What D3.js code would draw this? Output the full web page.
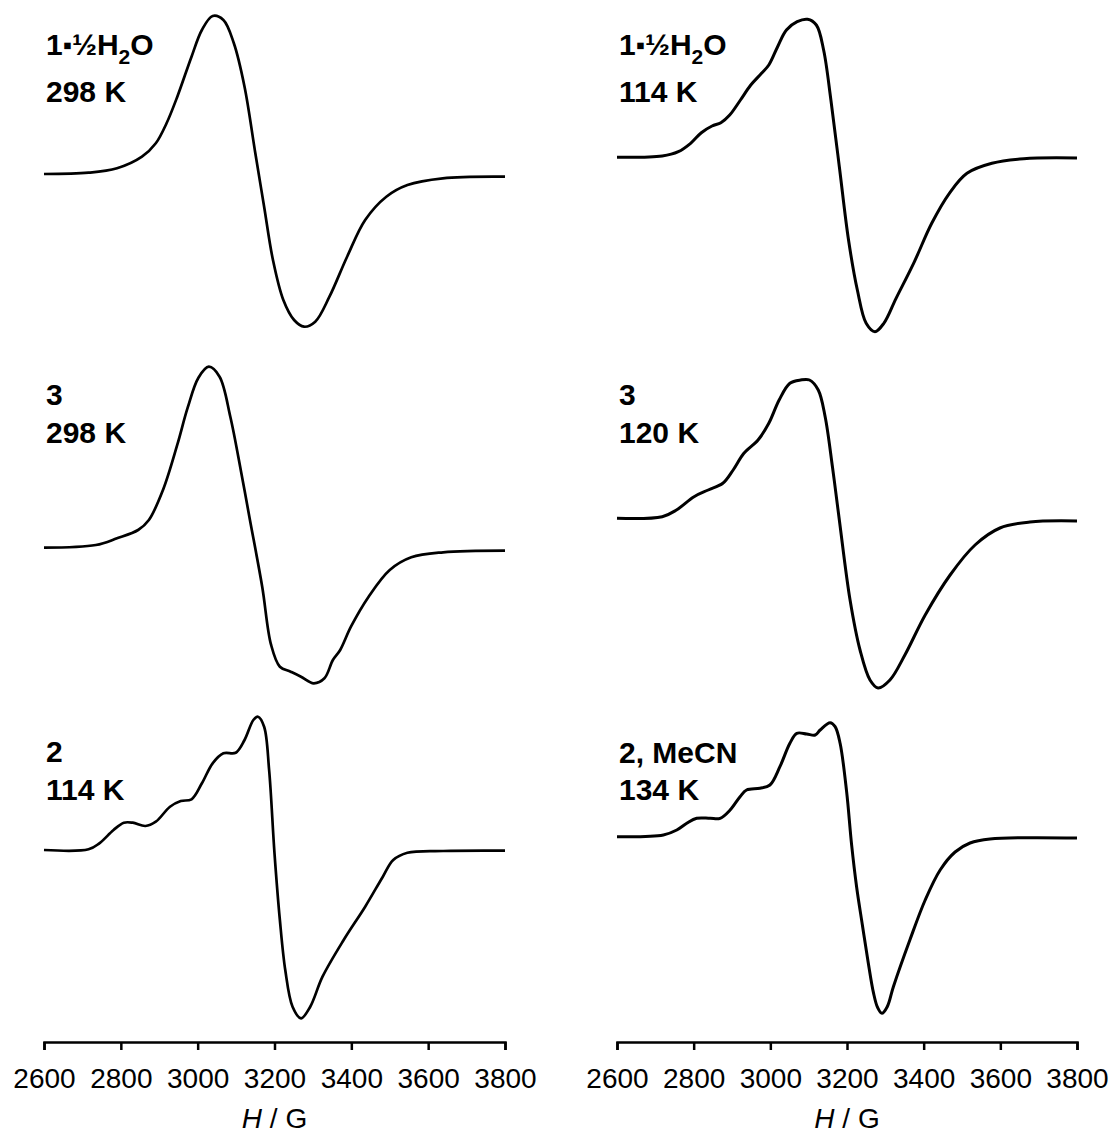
<!DOCTYPE html>
<html lang="en">
	<head>
		<meta charset="utf-8">
		<title>EPR spectra</title>
		<script src="https://d3js.org/d3.v7.min.js"></script>
		<style type="text/css">
		body { margin: 0; background: white; }
		text { font-family: "Liberation Sans", Arial, sans-serif; fill: black; }
		.lab { font-size: 30px; font-weight: bold; }
		.tick text { font-size: 28px; }
		.axis path, .axis line { stroke: black; stroke-width: 2.5px; }
		</style>
	</head>
	<body>
		<script type="text/javascript">

			// field values (G) and derivative intensity (arb. units, baseline = 0)
			var fieldA = [2600, 2716, 2790, 2855, 2891, 2919, 2947, 2984, 3011, 3039, 3067, 3094, 3122, 3150, 3173, 3196, 3223, 3251, 3277, 3306, 3343, 3389, 3436, 3491, 3546, 3638, 3800];
			var intensA = [0, 1.3, 5.7, 17.3, 30.7, 50.7, 77.3, 117.3, 144, 158, 154, 131, 87.3, 21, -32.7, -86, -126, -146, -152.7, -147.7, -122.7, -82.7, -46, -22.7, -11, -4.3, -2.7];

			var fieldB = [2600, 2735, 2790, 2845, 2873, 2910, 2947, 2974, 3002, 3029, 3057, 3085, 3113, 3135, 3168, 3191, 3214, 3242, 3269, 3302, 3330, 3352, 3371, 3399, 3445, 3500, 3556, 3639, 3800];
			var intensB = [0, 2.7, 9.4, 17.7, 27.7, 58, 103, 140, 170, 181, 171, 131, 76, 30, -39, -97, -119, -124, -129, -135.6, -130.6, -112.3, -102.3, -79, -49, -22.3, -9.6, -4.6, -3];

			var fieldC = [2600, 2716, 2744, 2781, 2808, 2831, 2864, 2891, 2928, 2956, 2984, 3011, 3039, 3067, 3099, 3122, 3145, 3157, 3173, 3186, 3200, 3214, 3228, 3247, 3269, 3293, 3325, 3380, 3436, 3482, 3509, 3546, 3639, 3800];
			var intensC = [0, 0.7, 6.7, 20, 27.3, 27.3, 24, 28.3, 43.3, 49, 50.7, 66.7, 86.7, 96.7, 97.3, 110, 130, 133.3, 123.3, 80, -3.3, -70, -120, -156.7, -168.3, -156.7, -126.7, -90, -56.7, -26.7, -10, -2.7, -1, -0.7];

			var fieldD = [2600, 2718, 2760, 2792, 2820, 2848, 2871, 2894, 2922, 2949, 2977, 2996, 3019, 3042, 3070, 3097, 3120, 3139, 3158, 3180, 3204, 3227, 3250, 3273, 3296, 3328, 3375, 3421, 3467, 3513, 3578, 3661, 3800];
			var intensD = [0, 1.3, 5.6, 14, 24.6, 31.3, 34.6, 42.3, 57.3, 72.3, 84, 92.3, 110.6, 127.3, 135.6, 138, 132.3, 107.3, 57.3, -9.4, -82.7, -132.7, -166, -174.4, -166, -141, -105, -66, -36, -16, -6, -1.4, -0.7];

			var fieldE = [2600, 2718, 2755, 2801, 2838, 2876, 2903, 2931, 2968, 2996, 3023, 3051, 3079, 3102, 3125, 3143, 3162, 3180, 3208, 3234, 3260, 3281, 3312, 3351, 3404, 3469, 3534, 3599, 3677, 3800];
			var intensE = [0, 1.6, 8.3, 21.6, 28.3, 35, 48.3, 65, 78.3, 95, 118.3, 135, 138.3, 138.3, 128.3, 101.6, 51.6, -1.7, -81.7, -131.7, -161.7, -169.7, -161.7, -136.7, -96.7, -56.7, -26.7, -9.7, -3.7, -2.7];

			var fieldF = [2600, 2721, 2756, 2782, 2808, 2843, 2869, 2895, 2921, 2938, 2973, 2999, 3025, 3051, 3069, 3095, 3117, 3130, 3156, 3169, 3182, 3199, 3212, 3225, 3240, 3255, 3269, 3280, 3291, 3305, 3321, 3364, 3404, 3443, 3482, 3521, 3573, 3800];
			var intensF = [0, 1.7, 6.7, 13.4, 18.4, 18.4, 18.4, 26.7, 40, 46.7, 48.4, 51.7, 70, 93.4, 103.4, 102.7, 101.7, 106.7, 114, 110, 93.4, 45, -8, -50, -88, -125, -156, -171, -176.6, -170, -150, -103.3, -63.3, -33.3, -15.3, -6.3, -2.3, -1.3];

			var compounds = ["1", "3", "2", "1", "3", "2, MeCN"];
			var temps = ["298 K", "298 K", "114 K", "114 K", "120 K", "134 K"];
			var xTicks = [2600, 2800, 3000, 3200, 3400, 3600, 3800];

			var w = 1112;
			var h = 1138;

			var svg = d3.select("body")
				.append("svg")
				.attr("width", w)
				.attr("height", h);

			// two columns of stacked spectra
			var cols = [
				{x0: 44, x1: 505},
				{x0: 617, x1: 1077}
			];
			var axisY = 1042;

			var panels = [
				{col: 0, base: 174, l1: 55, l2: 101.5, f: fieldA, v: intensA},
				{col: 0, base: 547.7, l1: 405, l2: 443, f: fieldB, v: intensB},
				{col: 0, base: 850, l1: 762, l2: 800, f: fieldC, v: intensC},
				{col: 1, base: 157.3, l1: 55, l2: 101.5, f: fieldD, v: intensD},
				{col: 1, base: 518.3, l1: 405, l2: 443, f: fieldE, v: intensE},
				{col: 1, base: 836.7, l1: 763, l2: 800, f: fieldF, v: intensF}
			];

			var xScales = cols.map(function(c) {
				return d3.scaleLinear().domain([2600, 3800]).range([c.x0, c.x1]);
			});

			panels.forEach(function(p, i) {
				var x = xScales[p.col];
				var y = d3.scaleLinear().domain([-200, 200]).range([p.base + 200, p.base - 200]);
				var pts = p.f.map(function(d, j) { return [d, p.v[j]]; });

				var line = d3.line()
					.x(function(d) { return x(d[0]); })
					.y(function(d) { return y(d[1]); })
					.curve(d3.curveCatmullRom.alpha(0.5));

				svg.append("path")
					.datum(pts)
					.attr("fill", "none")
					.attr("stroke", "black")
					.attr("stroke-width", p.col == 0 ? 2.7 : 3)
					.attr("stroke-linejoin", "round")
					.attr("d", line);

				var lx = cols[p.col].x0 + 2;
				var t1 = svg.append("text").attr("class", "lab").attr("x", lx).attr("y", p.l1);
				if (compounds[i] == "1") {
					t1.append("tspan").text("1");
					t1.append("tspan").attr("font-size", "26px").attr("dy", -1).text("\u25AA");
					t1.append("tspan").attr("dy", 1).text("\u00BD");
					t1.append("tspan").text("H");
					t1.append("tspan").attr("font-size", "21px").attr("dy", 9).text("2");
					t1.append("tspan").attr("dy", -9).text("O");
				} else {
					t1.text(compounds[i]);
				}
				svg.append("text").attr("class", "lab").attr("x", lx).attr("y", p.l2).text(temps[i]);
			});

			// x axes
			xScales.forEach(function(x) {
				var ax = svg.append("g")
					.attr("class", "axis")
					.attr("transform", "translate(0," + axisY + ")")
					.call(d3.axisBottom(x).tickValues(xTicks).tickSize(8).tickSizeOuter(8).tickPadding(18).tickFormat(d3.format("d")));
				ax.selectAll(".tick text").attr("font-family", null).attr("font-size", null);

				var t = svg.append("text")
					.attr("x", (x.range()[0] + x.range()[1]) / 2)
					.attr("y", 1128)
					.attr("text-anchor", "middle")
					.attr("font-size", "28px");
				t.append("tspan").attr("font-style", "italic").text("H");
				t.append("tspan").text(" / G");
			});

		</script>
	</body>
</html>
